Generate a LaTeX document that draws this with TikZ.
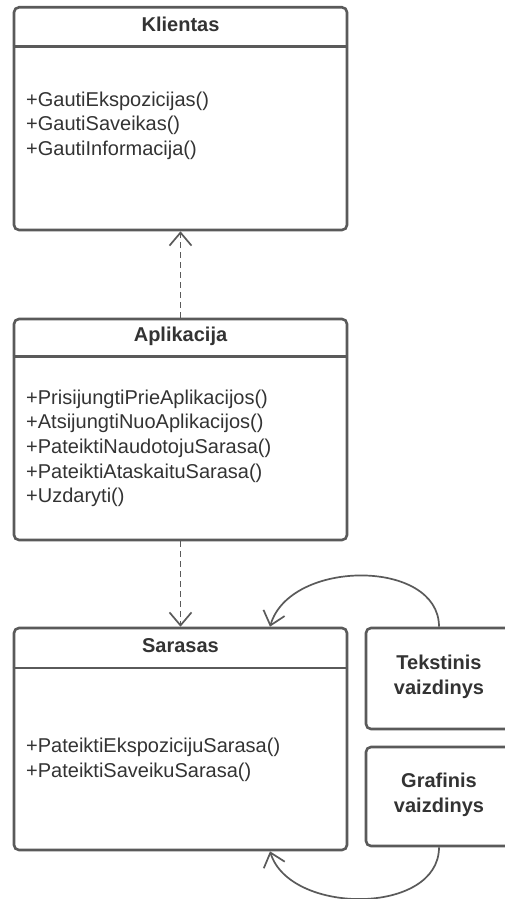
\documentclass[tikz,border=0pt]{standalone}
\usepackage{fontspec}
\setmainfont{Liberation Sans}
\usetikzlibrary{arrows.meta}
\definecolor{edge}{HTML}{5A5A5A}
\definecolor{ink}{HTML}{333333}

\begin{document}
\begin{tikzpicture}[x=1pt,y=-1pt,
  classbox/.style={draw=edge,line width=2.6pt,rounded corners=5pt,fill=white,inner sep=0pt},
  member/.style={anchor=base west,inner sep=0pt,text=ink,font=\fontsize{20}{24}\selectfont},
  title/.style={anchor=base,inner sep=0pt,text=ink,font=\fontsize{20}{24}\selectfont\bfseries},
  divider/.style={draw=edge,line width=2.6pt},
  tipstyle/.style={-{Straight Barb[length=13pt,width=22pt,line width=1.7pt]}},
  dep/.style={draw=edge,line width=1.7pt,dash pattern=on 6pt off 4pt,tipstyle},
  assoc/.style={draw=edge,line width=1.7pt,tipstyle}
]
\clip (0,0) rectangle (505,899);
\fill[white] (0,0) rectangle (505,899);

% class boxes
\node[classbox,minimum width=333pt,minimum height=222.7pt] (kli) at (180.5,118.65) {};
\node[classbox,minimum width=333pt,minimum height=221pt] (apl) at (180.5,429.5) {};
\node[classbox,minimum width=333pt,minimum height=222pt] (sar) at (180.5,739) {};
\node[classbox,minimum width=146pt,minimum height=101pt] (tek) at (439,678.5) {};
\node[classbox,minimum width=146pt,minimum height=99pt] (gra) at (439,796.5) {};

% header dividers
\draw[divider] (kli.west |- 0,46.7) -- (kli.east |- 0,46.7);
\draw[divider] (apl.west |- 0,356.7) -- (apl.east |- 0,356.7);
\draw[divider] (sar.west |- 0,668) -- (sar.east |- 0,668);

% Klientas
\node[title] (kliT) at (180.5,32) {Klientas};
\node[member] (kli1) at (26,106) {+GautiEkspozicijas()};
\node[member] (kli2) at (26,130.5) {+GautiSaveikas()};
\node[member] (kli3) at (26,155) {+GautiInformacija()};

% Aplikacija
\node[title] (aplT) at (180.5,341.7) {Aplikacija};
\node[member] (apl1) at (26,404) {+PrisijungtiPrieAplikacijos()};
\node[member] (apl2) at (26,428.7) {+AtsijungtiNuoAplikacijos()};
\node[member] (apl3) at (26,453.4) {+PateiktiNaudotojuSarasa()};
\node[member] (apl4) at (26,478.1) {+PateiktiAtaskaituSarasa()};
\node[member] (apl5) at (26,502.8) {+Uzdaryti()};

% Sarasas
\node[title] (sarT) at (180.5,652) {Sarasas};
\node[member] (sar1) at (26,752) {+PateiktiEkspozicijuSarasa()};
\node[member] (sar2) at (26,777) {+PateiktiSaveikuSarasa()};

% views
\node[title] (tek1) at (439,669) {Tekstinis};
\node[title] (tek2) at (439,694) {vaizdinys};
\node[title] (gra1) at (439,787) {Grafinis};
\node[title] (gra2) at (439,812) {vaizdinys};

% dependencies
\draw[dep] (apl.north) -- (kli.south);
\draw[dep] (apl.south) -- (sar.north);

% associations from the views
\coordinate (sarTop) at ([xshift=89.5pt]sar.north);
\coordinate (sarBot) at ([xshift=89.5pt]sar.south);
\draw[assoc] (tek.north) .. controls +(0,-68) and +(20,-68) .. (sarTop);
\draw[assoc] (gra.south) .. controls +(0,68) and +(20,64) .. (sarBot);
\end{tikzpicture}
\end{document}
